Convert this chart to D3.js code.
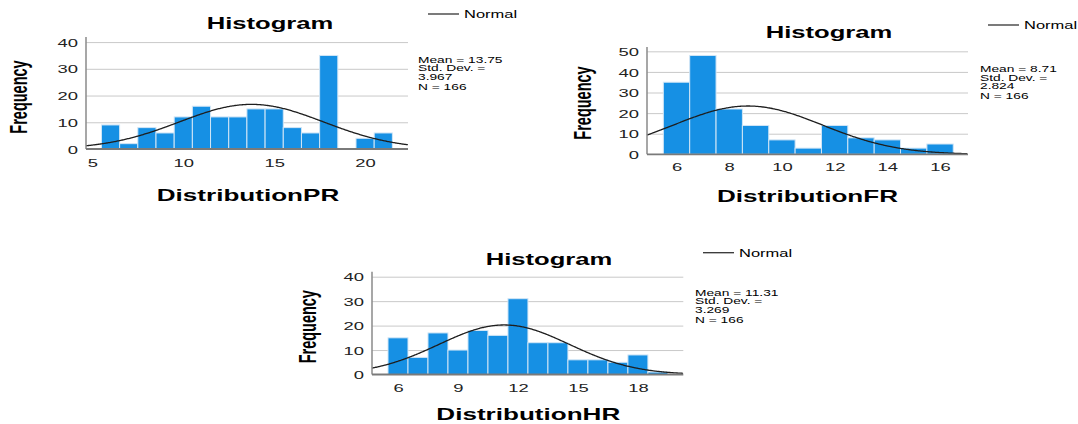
<!DOCTYPE html>
<html>
<head>
<meta charset="utf-8">
<script src="https://cdn.jsdelivr.net/npm/d3@7"></script>
<style>
  body { margin: 0; background: #fff; }
  svg { display: block; font-family: "Liberation Sans", Arial, sans-serif; }
</style>
</head>
<body>
<svg width="1078" height="424"></svg>
<script>
// bin centres (width 1) and frequencies
const prBins = [6, 7, 8, 9, 10, 11, 12, 13, 14, 15, 16, 17, 18, 19, 20, 21];
const prCounts = [9, 2, 8, 6, 12, 16, 12, 12, 15, 15, 8, 6, 35, 0, 4, 6];
const frBins = [6, 7, 8, 9, 10, 11, 12, 13, 14, 15, 16];
const frCounts = [35, 48, 22, 14, 7, 3, 14, 8, 7, 3, 5];
const hrBins = [6, 7, 8, 9, 10, 11, 12, 13, 14, 15, 16, 17, 18, 19];
const hrCounts = [15, 7, 17, 10, 18, 16, 31, 13, 13, 6, 6, 5, 8, 1];

// summary statistics shown beside each chart
const prStats = { mean: 13.75, sd: 3.967, n: 166, meanText: '13.75', sdText: '3.967' };
const frStats = { mean: 8.71, sd: 2.824, n: 166, meanText: '8.71', sdText: '2.824' };
const hrStats = { mean: 11.31, sd: 3.269, n: 166, meanText: '11.31', sdText: '3.269' };

// tick labels
const prXTicks = [5, 10, 15, 20];
const prYTicks = [0, 10, 20, 30, 40];
const frXTicks = [6, 8, 10, 12, 14, 16];
const frYTicks = [0, 10, 20, 30, 40, 50];
const hrXTicks = [6, 9, 12, 15, 18];
const hrYTicks = [0, 10, 20, 30, 40];

const binWidth = 1;
const SX = 1.6; // the original picture is stretched sideways, so text is too

// layout of each panel (pixels)
const panels = [
  { bins: prBins, counts: prCounts, stats: prStats, xTicks: prXTicks, yTicks: prYTicks, name: 'DistributionPR',
    left: 86, right: 408, top: 37, bottom: 149, xDomain: [4.65, 22.36], yMax: 41.9,
    title: [270, 29], legend: [428, 14], statsPos: [418, 62.5], freq: [19, 97], axisTitle: [248, 201], xLabelY: 167 },
  { bins: frBins, counts: frCounts, stats: frStats, xTicks: frXTicks, yTicks: frYTicks, name: 'DistributionFR',
    left: 647, right: 968, top: 47, bottom: 154.3, xDomain: [4.88, 17.06], yMax: 52.1,
    title: [829, 38.3], legend: [988, 25], statsPos: [980, 72], freq: [582.5, 103], axisTitle: [807.5, 201.7], xLabelY: 170.7 },
  { bins: hrBins, counts: hrCounts, stats: hrStats, xTicks: hrXTicks, yTicks: hrYTicks, name: 'DistributionHR',
    left: 372, right: 683.3, top: 271.7, bottom: 374.5, xDomain: [4.7, 20.27], yMax: 42.04,
    title: [549, 265], legend: [703, 252.7], statsPos: [695, 295.5], freq: [308, 326.7], axisTitle: [528.3, 420], xLabelY: 391.7 }
];

const svg = d3.select('svg');

function stretchedText(g, x, y, str, size, weight, anchor) {
  return g.append('text')
    .attr('transform', `translate(${x},${y}) scale(${SX},1)`)
    .attr('text-anchor', anchor || 'start')
    .attr('font-size', size)
    .attr('font-weight', weight || 'normal')
    .attr('fill', '#000')
    .text(str);
}

function drawPanel(p) {
  const g = svg.append('g');
  const x = d3.scaleLinear().domain(p.xDomain).range([p.left, p.right]);
  const y = d3.scaleLinear().domain([0, p.yMax]).range([p.bottom, p.top]);
  const data = p.bins.map((b, i) => ({ x0: b - binWidth / 2, x1: b + binWidth / 2, count: p.counts[i] }));

  // gridlines
  g.append('g')
    .attr('transform', `translate(${p.left},0)`)
    .call(d3.axisLeft(y).tickValues(p.yTicks.filter(t => t > 0)).tickSize(-(p.right - p.left)).tickFormat(''))
    .call(a => a.select('.domain').remove())
    .call(a => a.selectAll('line').attr('stroke', '#c9c9c9').attr('stroke-width', 1));

  // bars
  g.selectAll('.bar')
    .data(data.filter(d => d.count > 0))
    .enter().append('rect')
    .attr('class', 'bar')
    .attr('x', d => x(d.x0))
    .attr('y', d => y(d.count))
    .attr('width', d => x(d.x1) - x(d.x0))
    .attr('height', d => y(0) - y(d.count))
    .attr('fill', '#1690e4')
    .attr('stroke', '#d2e6f6')
    .attr('stroke-width', 1);

  // normal curve fitted from mean / sd / n
  const s = p.stats;
  const curve = d3.range(p.xDomain[0], p.xDomain[1] + 0.01, 0.05).map(v => {
    const z = (v - s.mean) / s.sd;
    return [v, s.n * binWidth * Math.exp(-0.5 * z * z) / (s.sd * Math.sqrt(2 * Math.PI))];
  });
  g.append('path')
    .datum(curve)
    .attr('fill', 'none')
    .attr('stroke', '#1e1e1e')
    .attr('stroke-width', 1.3)
    .attr('d', d3.line().x(d => x(d[0])).y(d => y(d[1])).curve(d3.curveBasis));

  // axis lines
  g.append('line')
    .attr('x1', p.left).attr('x2', p.left).attr('y1', p.top).attr('y2', p.bottom)
    .attr('stroke', '#8a8a8a').attr('stroke-width', 1.5);
  g.append('line')
    .attr('x1', p.left).attr('x2', p.right).attr('y1', y(0)).attr('y2', y(0))
    .attr('stroke', '#7a7a7a').attr('stroke-width', 1.8);

  // y tick labels
  g.append('g')
    .attr('transform', `translate(${p.left},0)`)
    .call(d3.axisLeft(y).tickValues(p.yTicks).tickSize(0).tickPadding(0))
    .call(a => a.select('.domain').remove())
    .call(a => a.selectAll('text')
      .attr('x', 0).attr('dy', '0.36em')
      .attr('transform', `translate(-8,0) scale(${SX},1)`)
      .attr('font-size', 11.5).attr('font-family', null).attr('fill', '#222'));

  // x tick labels
  g.append('g')
    .attr('transform', `translate(0,${p.xLabelY})`)
    .call(d3.axisBottom(x).tickValues(p.xTicks).tickSize(0).tickPadding(0))
    .call(a => a.select('.domain').remove())
    .call(a => a.selectAll('text')
      .attr('y', 0).attr('dy', 0)
      .attr('transform', `scale(${SX},1)`)
      .attr('font-size', 11.5).attr('font-family', null).attr('fill', '#222'));

  // title and axis titles
  stretchedText(g, p.title[0], p.title[1], 'Histogram', 16, 'bold', 'middle');
  stretchedText(g, p.axisTitle[0], p.axisTitle[1], p.name, 16.3, 'bold', 'middle');
  g.append('text')
    .attr('transform', `translate(${p.freq[0]},${p.freq[1]}) scale(${SX},1) rotate(-90)`)
    .attr('text-anchor', 'middle')
    .attr('dy', '0.35em')
    .attr('font-size', 14.5)
    .attr('font-weight', 'bold')
    .text('Frequency');

  // legend
  g.append('line')
    .attr('x1', p.legend[0]).attr('x2', p.legend[0] + 31)
    .attr('y1', p.legend[1]).attr('y2', p.legend[1])
    .attr('stroke', '#333').attr('stroke-width', 1.3);
  stretchedText(g, p.legend[0] + 36, p.legend[1] + 4, 'Normal', 10.3, 'normal', 'start');

  // statistics block
  const lines = [`Mean = ${s.meanText}`, 'Std. Dev. =', s.sdText, `N = ${s.n}`];
  const offs = [0, 8.7, 17.4, 27];
  lines.forEach((t, i) => stretchedText(g, p.statsPos[0], p.statsPos[1] + offs[i], t, 8.6, 'normal', 'start'));
}

panels.forEach(drawPanel);
</script>
</body>
</html>
